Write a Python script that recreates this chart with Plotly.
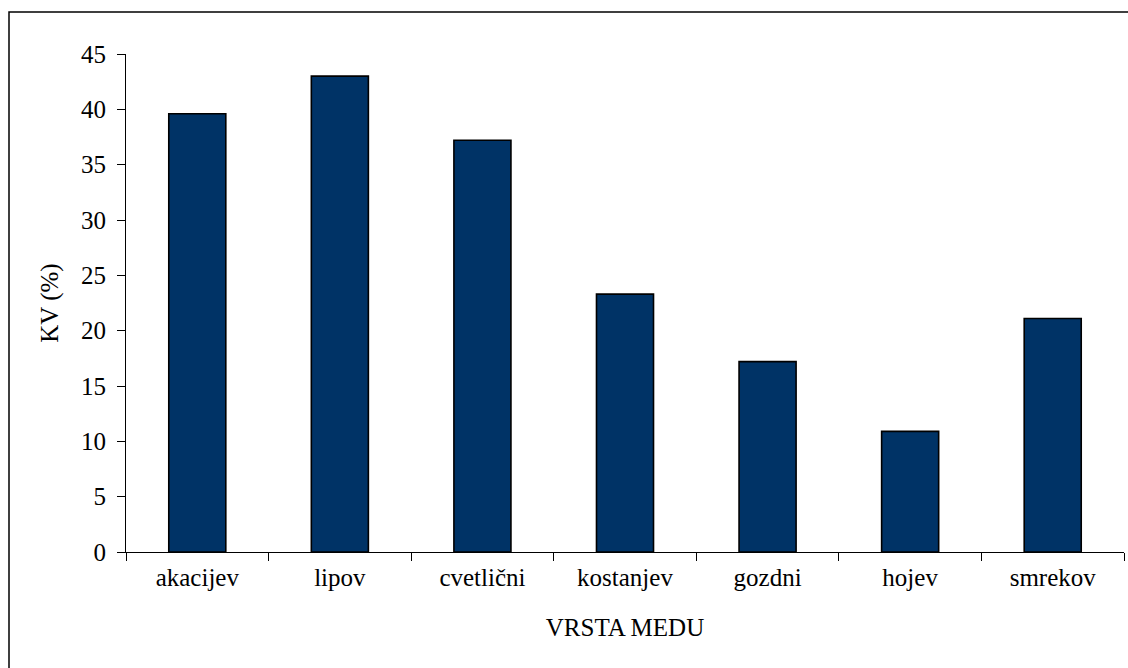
import plotly.graph_objects as go

# Coefficient of variation by honey type
categories = ["akacijev", "lipov", "cvetlični", "kostanjev", "gozdni", "hojev", "smrekov"]
kv_values = [39.6, 43.0, 37.2, 23.3, 17.2, 10.9, 21.1]
y_ticks = [0, 5, 10, 15, 20, 25, 30, 35, 40, 45]

FONT = "Liberation Serif"
W, H = 1128, 668
L, R, T, B = 126, 4, 54, 116

fig = go.Figure(
    go.Bar(
        x=categories,
        y=kv_values,
        marker=dict(color="#003366", line=dict(color="#000000", width=1.6)),
    )
)

plot_w = W - L - R
plot_h = H - T - B

fig.update_layout(
    width=W,
    height=H,
    margin=dict(l=L, r=R, t=T, b=B, pad=0),
    paper_bgcolor="white",
    plot_bgcolor="white",
    bargap=0.6,
    showlegend=False,
    font=dict(family=FONT, size=25, color="black"),
    xaxis=dict(
        title=dict(text="VRSTA MEDU", font=dict(family=FONT, size=25), standoff=28),
        showline=True,
        linecolor="black",
        linewidth=1,
        ticks="outside",
        tickson="boundaries",
        ticklen=8,
        tickcolor="black",
        tickwidth=1,
        showgrid=False,
        ticklabelstandoff=3,
        tickfont=dict(family=FONT, size=25),
    ),
    yaxis=dict(
        title=dict(text="KV (%)", font=dict(family=FONT, size=25), standoff=15),
        range=[0, 45],
        tickvals=y_ticks,
        showline=True,
        linecolor="black",
        linewidth=1,
        ticks="outside",
        ticklen=8,
        tickcolor="black",
        tickwidth=1,
        showgrid=False,
        zeroline=False,
        ticklabelstandoff=6,
        tickfont=dict(family=FONT, size=25),
    ),
    shapes=[
        # chart frame
        dict(
            type="rect",
            xref="paper",
            yref="paper",
            x0=(9 - L) / plot_w,
            x1=(W + 20 - L) / plot_w,
            y0=-(H + 20 - T - plot_h) / plot_h,
            y1=(H - 12 - B) / plot_h,
            line=dict(color="black", width=1.5),
            fillcolor="rgba(0,0,0,0)",
            layer="above",
        )
    ],
)

fig.write_html("out.html")
